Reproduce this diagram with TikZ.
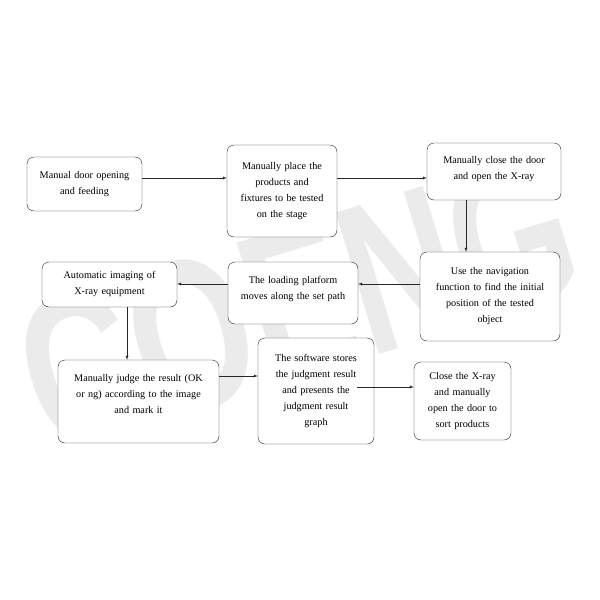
\documentclass[tikz,border=0pt]{standalone}
\usepackage{fontspec}
\setmainfont{Liberation Serif}
\newfontfamily\markfont{Liberation Sans}
\usetikzlibrary{arrows.meta,positioning}

\begin{document}
\begin{tikzpicture}[x=1pt, y=-1pt, thin]

   \tikzstyle{stage}=[rectangle, rounded corners=7pt, draw=black!85, fill=white, text=black, align=center, font=\fontsize{10.2}{16}\selectfont, inner sep=2pt]
   \tikzstyle{arr}=[-latex, black!85]

   \useasboundingbox (0,0) rectangle (600,600);
   \fill[white] (0,0) rectangle (600,600);

   % watermark
   \node[text=black!8, font=\markfont\bfseries\fontsize{215}{215}\selectfont, rotate=17, xscale=0.72] (mark) at (298,302) {COENG};

   \node[stage, minimum width=115pt, minimum height=54pt, text width=105pt]  (b1) at (84.5,184)  {Manual door opening\\ and feeding};
   \node[stage, minimum width=110pt, minimum height=92pt, text width=104pt]  (b2) at (282,191)   {Manually place the\\ products and\\ fixtures to be tested\\ on the stage};
   \node[stage, minimum width=134pt, minimum height=57pt, text width=124pt]  (b3) at (494,171.5) {Manually close the door\\ and open the X-ray\\[-8pt]\mbox{}};
   \node[stage, minimum width=140pt, minimum height=89pt, text width=130pt]  (b4) at (490,296.5) {Use the navigation\\ function to find the initial\\ position of the tested\\ object};
   \node[stage, minimum width=130pt, minimum height=62pt, text width=122pt]  (b5) at (293,293)   {The loading platform\\ moves along the set path\\[-6pt]\mbox{}};
   \node[stage, minimum width=135pt, minimum height=45pt, text width=125pt]  (b6) at (109.5,284.5) {Automatic imaging of\\ X-ray equipment};
   \node[stage, minimum width=161pt, minimum height=83pt, text width=150pt]  (b7) at (138.5,401.5) {Manually judge the result (OK\\ or ng) according to the image\\ and mark it\\[0pt]\mbox{}};
   \node[stage, minimum width=116pt, minimum height=106pt, text width=110pt] (b8) at (316,391)   {The software stores\\ the judgment result\\ and presents the\\ judgment result\\ graph};
   \node[stage, minimum width=97pt, minimum height=78pt, text width=92pt]    (b9) at (462.5,401) {Close the X-ray\\ and manually\\ open the door to\\ sort products};

   \draw[arr] ([yshift=6pt]b1.east) -- ([yshift=6pt]b1.east -| b2.west);
   \draw[arr] ([yshift=13pt]b2.east) -- ([yshift=13pt]b2.east -| b3.west);
   \draw[arr] ([xshift=-28pt]b3.south) -- ([xshift=-28pt]b3.south |- b4.north);
   \draw[arr] ([yshift=12.5pt]b4.west) -- ([yshift=12.5pt]b4.west -| b5.east);
   \draw[arr] ([yshift=9pt]b5.west) -- ([yshift=9pt]b5.west -| b6.east);
   \draw[arr] ([xshift=17.5pt]b6.south) -- ([xshift=17.5pt]b6.south |- b7.north);
   \draw[arr] ([yshift=25.5pt]b7.east) -- ([yshift=25.5pt]b7.east -| b8.west);
   \draw[arr] ([xshift=-17pt,yshift=4pt]b8.east) -- ([yshift=4pt]b8.east -| b9.west);
\end{tikzpicture}
\end{document}
